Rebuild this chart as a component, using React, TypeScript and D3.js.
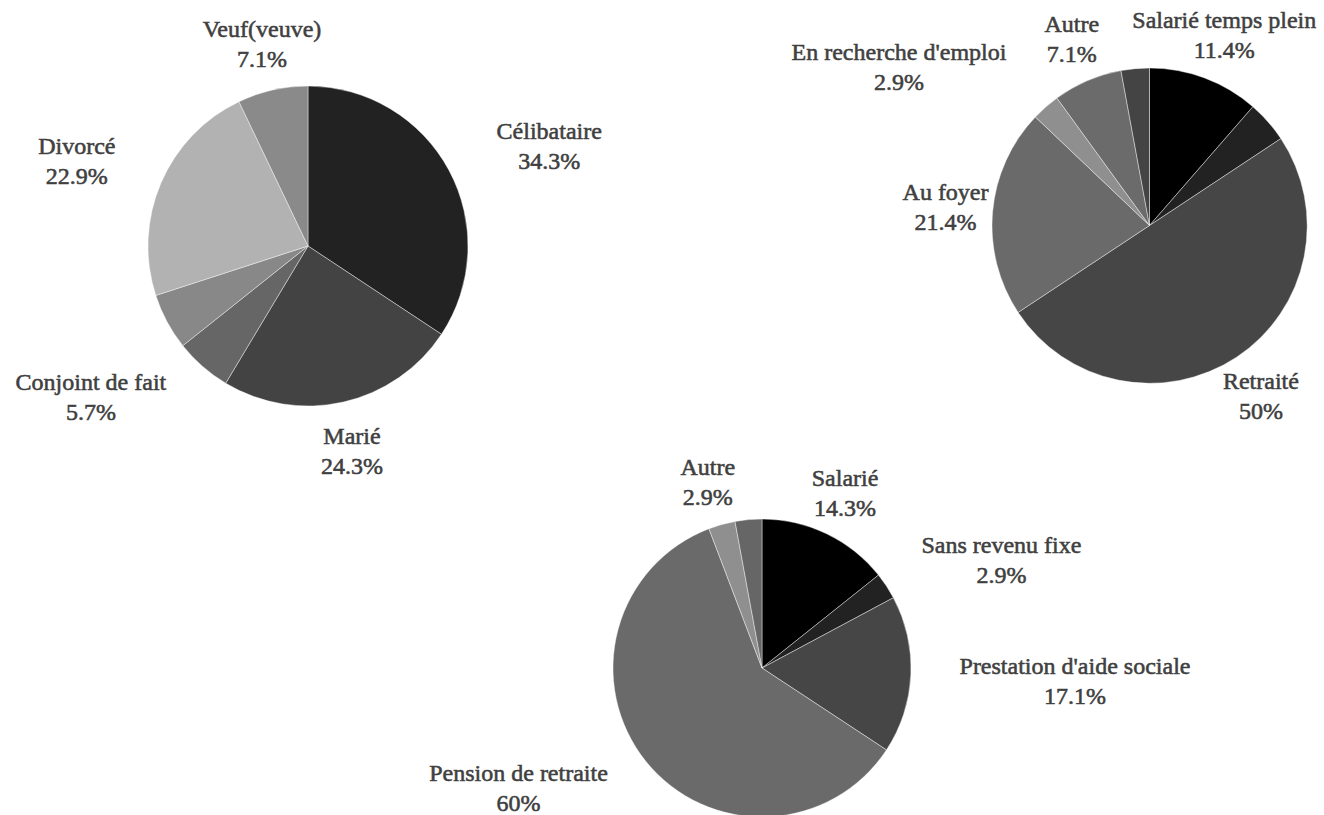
import * as d3 from "d3"

// Situation de famille
const maritalCategories = ["Célibataire", "Marié", "Conjoint de fait", "Séparé", "Divorcé", "Veuf(veuve)"]
const maritalValues = [34.3, 24.3, 5.7, 5.7, 22.9, 7.1]
const maritalColors = ["#222222", "#434343", "#666666", "#888888", "#b2b2b2", "#8a8a8a"]

// Occupation
const occupationCategories = [
  "Salarié temps plein",
  "Salarié temps partiel",
  "Retraité",
  "Au foyer",
  "En recherche d'emploi",
  "Autre",
  "Étudiant",
]
const occupationValues = [11.4, 4.3, 50, 21.4, 2.9, 7.1, 2.9]
const occupationColors = ["#000000", "#222222", "#464646", "#6a6a6a", "#8f8f8f", "#6b6b6b", "#444444"]

// Source de revenu
const revenueCategories = [
  "Salarié",
  "Sans revenu fixe",
  "Prestation d'aide sociale",
  "Pension de retraite",
  "Autre",
  "Non précisé",
]
const revenueValues = [14.3, 2.9, 17.1, 60, 2.9, 2.9]
const revenueColors = ["#000000", "#222222", "#464646", "#6a6a6a", "#8f8f8f", "#666666"]

// slices whose label is not shown in the original
const hiddenLabels = new Set(["Séparé", "Salarié temps partiel", "Étudiant", "Non précisé"])

// layout
const pies = [
  { id: "marital", categories: maritalCategories, values: maritalValues, colors: maritalColors, cx: 308, cy: 246, r: 160 },
  { id: "occupation", categories: occupationCategories, values: occupationValues, colors: occupationColors, cx: 1149.5, cy: 225.5, r: 157.5 },
  { id: "revenue", categories: revenueCategories, values: revenueValues, colors: revenueColors, cx: 762, cy: 668, r: 149 },
]

// label shifts from the default position (mid-angle at 1.3 r)
const labelNudge: Record<string, [number, number]> = {
  "marital:Célibataire": [58, -1.5],
  "marital:Marié": [-2, 3],
  "marital:Conjoint de fait": [-80, -5],
  "marital:Divorcé": [-40, -2],
  "marital:Veuf(veuve)": [0, 1],
  "occupation:Salarié temps plein": [3, 2],
  "occupation:Retraité": [-1.5, 0],
  "occupation:Au foyer": [0, 0],
  "occupation:En recherche d'emploi": [-115.6, -3.5],
  "occupation:Autre": [3, 2],
  "revenue:Salarié": [-1, 0.5],
  "revenue:Sans revenu fixe": [77.6, -0.7],
  "revenue:Prestation d'aide sociale": [119.5, 4.4],
  "revenue:Pension de retraite": [-92.4, -0.6],
  "revenue:Autre": [-2, 1],
}

const fmt = d3.format(".1~f")
const font = "'Liberation Serif', 'Times New Roman', serif"

function PieChart({ p }: { p: (typeof pies)[0] }) {
  const arcs = d3
    .pie<number>()
    .sort(null)
    .value((d) => d)(p.values)
  const arcGen = d3.arc<d3.PieArcDatum<number>>().innerRadius(0).outerRadius(p.r)

  return (
    <g>
      <g transform={`translate(${p.cx},${p.cy})`}>
        {arcs.map((a, i) => (
          <path key={i} d={arcGen(a) || ""} fill={p.colors[i]} stroke="#ffffff" strokeWidth={0.6} strokeOpacity={0.7} />
        ))}
      </g>
      {arcs.map((a, i) => {
        const name = p.categories[i]
        if (hiddenLabels.has(name)) return null
        const mid = (a.startAngle + a.endAngle) / 2
        const lr = p.r * 1.3
        const [dx, dy] = labelNudge[`${p.id}:${name}`] || [0, 0]
        const x = p.cx + lr * Math.sin(mid) + dx
        const y = p.cy - lr * Math.cos(mid) + dy
        return (
          <text
            key={`l${i}`}
            textAnchor="middle"
            fill="#404040"
            stroke="#404040"
            strokeWidth={0.55}
            fontFamily={font}
            fontSize={24}
          >
            <tspan x={x} y={y - 7.5}>
              {name}
            </tspan>
            <tspan x={x} y={y + 22.5}>
              {fmt(p.values[i])}%
            </tspan>
          </text>
        )
      })}
    </g>
  )
}

export default function App() {
  return (
    <svg
      width={1324}
      height={815}
      style={{ position: "absolute", left: 0, top: 0, background: "#ffffff" }}
    >
      {pies.map((p) => (
        <PieChart key={p.id} p={p} />
      ))}
    </svg>
  )
}
